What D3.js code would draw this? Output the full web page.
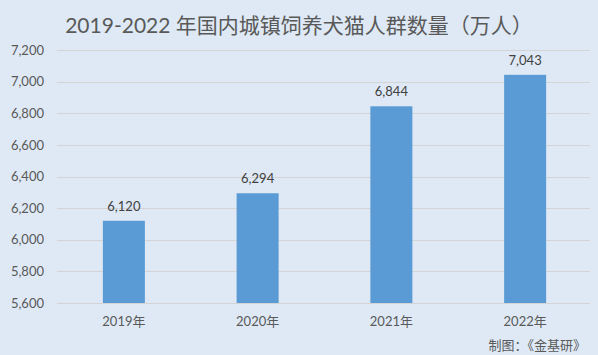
<!DOCTYPE html>
<html><head><meta charset="utf-8">
<script src="https://cdn.jsdelivr.net/npm/d3@7"></script>
<style>
html,body{margin:0;padding:0;background:#dee9f5;}
svg text{font-family:Lato,"Noto Sans CJK SC",sans-serif;}
</style></head>
<body><svg id="c" width="598" height="355"></svg>
<script>
const categories = ["2019年","2020年","2021年","2022年"];
const values = [6120, 6294, 6844, 7043];
const tickValues = [5600,5800,6000,6200,6400,6600,6800,7000,7200];
const title = "2019-2022 年国内城镇饲养犬猫人群数量（万人）";
const source = "制图：《金基研》";

const svg = d3.select("#c");
svg.append("rect").attr("width",598).attr("height",355).attr("fill","#dee9f5");
const m = {l:57, r:6, t:50, b:52};
const W = 598, H = 355;
const x = d3.scaleBand().domain(categories).range([m.l, W-m.r]).paddingInner(0.686).paddingOuter(0.343);
const y = d3.scaleLinear().domain([5600,7200]).range([H-m.b, m.t]);
const fmt = d3.format(",");

svg.append("g").selectAll("line").data(tickValues).join("line")
  .attr("x1",m.l).attr("x2",W-m.r-2)
  .attr("y1",d=>Math.round(y(d))+0.5).attr("y2",d=>Math.round(y(d))+0.5)
  .attr("stroke","#d4d4d4").attr("stroke-width",1);

const yAxis = svg.append("g").attr("transform",`translate(${m.l},0)`)
  .call(d3.axisLeft(y).tickValues(tickValues).tickFormat(fmt).tickSize(0).tickPadding(13));
yAxis.select(".domain").remove();
yAxis.selectAll("text").attr("fill","#595959").style("font-size","13px");

svg.append("g").selectAll("rect").data(values).join("rect")
  .attr("x",(d,i)=>x(categories[i])).attr("width",x.bandwidth())
  .attr("y",d=>y(d)).attr("height",d=>y(5600)-y(d)).attr("fill","#5b9bd5");

svg.append("g").selectAll("text").data(values).join("text")
  .attr("x",(d,i)=>x(categories[i])+x.bandwidth()/2).attr("y",d=>y(d)-10)
  .attr("text-anchor","middle").attr("fill","#404040").style("font-size","13px").text(d=>fmt(d));

const xAxis = svg.append("g").attr("transform",`translate(0,${H-m.b})`)
  .call(d3.axisBottom(x).tickSize(0).tickPadding(14));
xAxis.select(".domain").remove();
xAxis.selectAll("text").attr("fill","#595959").style("font-size","13px");

svg.append("text").attr("x",299).attr("y",33).attr("text-anchor","middle")
  .attr("fill","#595959").style("font-size","21px").text(title);
svg.append("text").attr("x",586).attr("y",350).attr("text-anchor","end")
  .attr("fill","#595959").style("font-size","13px").text(source);
</script></body></html>
